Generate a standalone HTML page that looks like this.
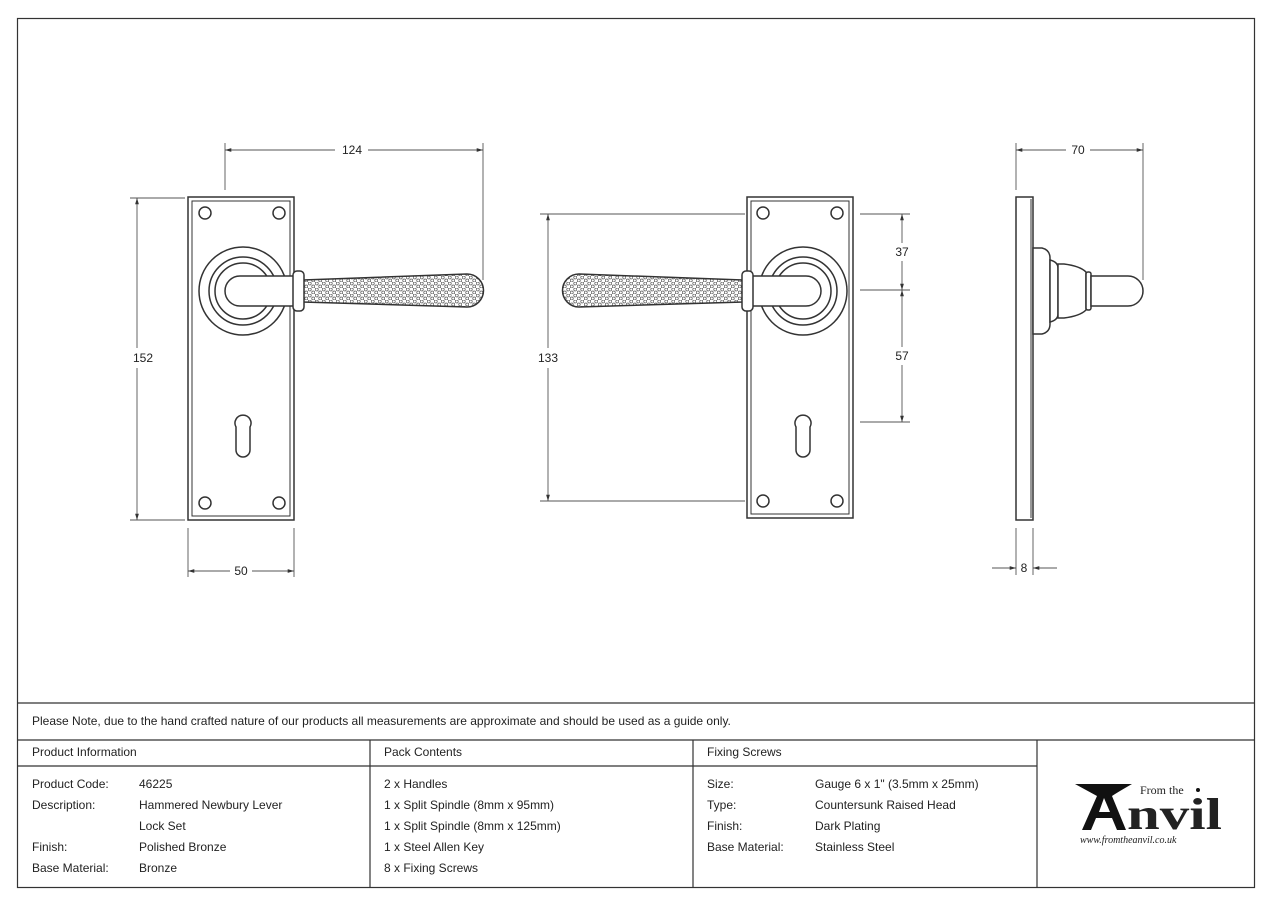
<!DOCTYPE html>
<html><head><meta charset="utf-8"><style>
html,body{margin:0;padding:0;background:#fff;}
svg{display:block;}
text{font-family:"Liberation Sans",sans-serif;fill:#222;}
</style></head><body>
<svg width="1272" height="900" viewBox="0 0 1272 900" xmlns="http://www.w3.org/2000/svg">
<defs>
<pattern id="ham" width="7" height="6" patternUnits="userSpaceOnUse">
<rect width="7" height="6" fill="#fff"/>
<circle cx="1.75" cy="1.5" r="1.5" fill="none" stroke="#555" stroke-width="0.7"/>
<circle cx="5.25" cy="4.5" r="1.5" fill="none" stroke="#555" stroke-width="0.7"/>
</pattern>
<marker id="ar" viewBox="0 0 10 10" refX="10" refY="5" markerWidth="7" markerHeight="7" orient="auto-start-reverse"><path d="M0,2 L10,5 L0,8 z" fill="#333"/></marker>
<g id="lever" fill="#fff" stroke="#333" stroke-width="1.5">
<circle cx="243" cy="291" r="44"/>
<circle cx="243" cy="291" r="34"/>
<circle cx="243" cy="291" r="28"/>
<path d="M298,276 H240 A15,15 0 0 0 240,306 H298 Z"/>
<path d="M303,280 L467,274 A16.5,16.5 0 0 1 467,307 L303,302 Z" fill="url(#ham)"/>
<rect x="293" y="271" width="11" height="40" rx="4"/>
</g>
</defs>
<rect x="17.5" y="18.5" width="1237" height="869" fill="none" stroke="#333" stroke-width="1.2"/>

<g fill="none" stroke="#333" stroke-width="1.5">
<rect x="188" y="197" width="106" height="323"/>
<rect x="192" y="201" width="98" height="315" stroke-width="1"/>
<circle cx="205" cy="213" r="6"/><circle cx="279" cy="213" r="6"/>
<circle cx="205" cy="503" r="6"/><circle cx="279" cy="503" r="6"/>
<path d="M236,427 A8,8 0 1 1 250,427 L250,450 A7,7 0 0 1 236,450 Z"/>
</g>
<use href="#lever"/>

<g fill="none" stroke="#333" stroke-width="1.5">
<rect x="747" y="197" width="106" height="321"/>
<rect x="751" y="201" width="98" height="313" stroke-width="1"/>
<circle cx="763" cy="213" r="6"/><circle cx="837" cy="213" r="6"/>
<circle cx="763" cy="501" r="6"/><circle cx="837" cy="501" r="6"/>
<path d="M796,427 A8,8 0 1 1 810,427 L810,450 A7,7 0 0 1 796,450 Z"/>
</g>
<use href="#lever" transform="translate(1046,0) scale(-1,1)"/>

<g fill="#fff" stroke="#333" stroke-width="1.5">
<rect x="1016" y="197" width="17" height="323"/>
<line x1="1031" y1="199" x2="1031" y2="518" stroke-width="1"/>
<path d="M1033,248 H1042 Q1050,250 1050,258 V324 Q1050,332 1042,334 H1033 Z"/>
<path d="M1050,260 Q1058,262 1058,268 V314 Q1058,320 1050,322 Z"/>
<path d="M1058,264 H1064 Q1080,266 1086,272 V310 Q1080,316 1064,318 H1058 Z"/>
<rect x="1086" y="272" width="5" height="38" rx="2"/>
<path d="M1091,276 H1128 A15,15 0 0 1 1128,306 H1091 Z"/>
</g>

<g stroke="#555" stroke-width="0.9" fill="none">
<line x1="225" y1="143" x2="225" y2="190"/><line x1="483" y1="143" x2="483" y2="280"/>
<line x1="225" y1="150" x2="335" y2="150" marker-start="url(#ar)"/><line x1="368" y1="150" x2="483" y2="150" marker-end="url(#ar)"/>
<line x1="130" y1="198" x2="185" y2="198"/><line x1="130" y1="520" x2="185" y2="520"/>
<line x1="137" y1="198" x2="137" y2="348" marker-start="url(#ar)"/><line x1="137" y1="368" x2="137" y2="520" marker-end="url(#ar)"/>
<line x1="188" y1="528" x2="188" y2="577"/><line x1="294" y1="528" x2="294" y2="577"/>
<line x1="188" y1="571" x2="230" y2="571" marker-start="url(#ar)"/><line x1="252" y1="571" x2="294" y2="571" marker-end="url(#ar)"/>

<line x1="540" y1="214" x2="745" y2="214"/><line x1="540" y1="501" x2="745" y2="501"/>
<line x1="548" y1="214" x2="548" y2="348" marker-start="url(#ar)"/><line x1="548" y1="368" x2="548" y2="501" marker-end="url(#ar)"/>
<line x1="860" y1="214" x2="910" y2="214"/><line x1="860" y1="290" x2="910" y2="290"/><line x1="860" y1="422" x2="910" y2="422"/>
<line x1="902" y1="214" x2="902" y2="243" marker-start="url(#ar)"/><line x1="902" y1="261" x2="902" y2="290" marker-end="url(#ar)"/>
<line x1="902" y1="290" x2="902" y2="347" marker-start="url(#ar)"/><line x1="902" y1="365" x2="902" y2="422" marker-end="url(#ar)"/>

<line x1="1016" y1="143" x2="1016" y2="190"/><line x1="1143" y1="143" x2="1143" y2="280"/>
<line x1="1016" y1="150" x2="1066" y2="150" marker-start="url(#ar)"/><line x1="1090" y1="150" x2="1143" y2="150" marker-end="url(#ar)"/>
<line x1="1016" y1="528" x2="1016" y2="575"/><line x1="1033" y1="528" x2="1033" y2="575"/>
<line x1="992" y1="568" x2="1016" y2="568" marker-end="url(#ar)"/><line x1="1057" y1="568" x2="1033" y2="568" marker-end="url(#ar)"/>
</g>
<g font-size="12" text-anchor="middle">
<text x="352" y="154">124</text>
<text x="143" y="362">152</text>
<text x="241" y="575">50</text>
<text x="548" y="362">133</text>
<text x="902" y="256">37</text>
<text x="902" y="360">57</text>
<text x="1078" y="154">70</text>
<text x="1024" y="572">8</text>
</g>

<g stroke="#333" stroke-width="1.2">
<line x1="17" y1="703" x2="1255" y2="703"/>
<line x1="17" y1="740" x2="1255" y2="740"/>
<line x1="17" y1="766" x2="1037" y2="766"/>
<line x1="370" y1="740" x2="370" y2="888"/>
<line x1="693" y1="740" x2="693" y2="888"/>
<line x1="1037" y1="740" x2="1037" y2="888"/>
</g>
<g font-size="12">
<text x="32" y="725">Please Note, due to the hand crafted nature of our products all measurements are approximate and should be used as a guide only.</text>
<text x="32" y="756">Product Information</text>
<text x="384" y="756">Pack Contents</text>
<text x="707" y="756">Fixing Screws</text>
<text x="32" y="788">Product Code:</text><text x="139" y="788">46225</text>
<text x="32" y="809">Description:</text><text x="139" y="809">Hammered Newbury Lever</text>
<text x="139" y="830">Lock Set</text>
<text x="32" y="851">Finish:</text><text x="139" y="851">Polished Bronze</text>
<text x="32" y="872">Base Material:</text><text x="139" y="872">Bronze</text>
<text x="384" y="788">2 x Handles</text>
<text x="384" y="809">1 x Split Spindle (8mm x 95mm)</text>
<text x="384" y="830">1 x Split Spindle (8mm x 125mm)</text>
<text x="384" y="851">1 x Steel Allen Key</text>
<text x="384" y="872">8 x Fixing Screws</text>
<text x="707" y="788">Size:</text><text x="815" y="788">Gauge 6 x 1" (3.5mm x 25mm)</text>
<text x="707" y="809">Type:</text><text x="815" y="809">Countersunk Raised Head</text>
<text x="707" y="830">Finish:</text><text x="815" y="830">Dark Plating</text>
<text x="707" y="851">Base Material:</text><text x="815" y="851">Stainless Steel</text>
</g>
<path d="M1075,784 H1132 Q1118,792 1112,796 L1126,830 H1117 L1112,818 H1096 L1091,830 H1082 L1097,796 Q1086,790 1075,784 Z M1099,812 H1110 L1104,798 Z" fill="#111"/>
<text x="1140" y="794" font-size="12" style="font-family:'Liberation Serif',serif">From the</text>
<circle cx="1198" cy="790" r="2" fill="#111"/>
<text x="1127" y="829" font-size="44" textLength="95" lengthAdjust="spacingAndGlyphs" style="font-family:'Liberation Serif',serif;font-weight:bold" fill="#111">nvil</text>
<text x="1080" y="843" font-size="10" style="font-family:'Liberation Serif',serif;font-style:italic">www.fromtheanvil.co.uk</text>
</svg>
</body></html>
